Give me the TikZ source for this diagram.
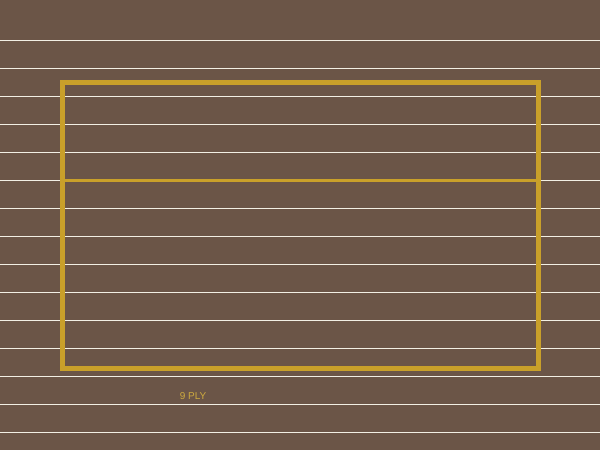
\documentclass[tikz,border=0pt]{standalone}
\usepackage{fontspec}
\setsansfont{Liberation Sans}
\usetikzlibrary{positioning}
\definecolor{bark}{HTML}{6B5547}
\definecolor{gold}{HTML}{C9A02A}
\definecolor{chalk}{HTML}{F2EFE4}

\begin{document}
\begin{tikzpicture}[x=1pt,y=-1pt]
                \tikzset{plank/.style={draw=chalk, line width=1pt},
                         frame/.style={draw=gold, line width=5pt, minimum width=476pt, minimum height=286pt, inner sep=0pt}}
                \fill[bark] (0,0) rectangle (600,450);
                \useasboundingbox (0,0) rectangle (600,450);
                \foreach \y in {40,68,...,432} \draw[plank] (0,\y) -- (600,\y);
                \node[frame] (board) at (300.5,225.4) {};
                \coordinate (mid) at (300,180.3);
                \draw[gold, line width=3pt] (board.west |- mid) -- (board.east |- mid);
                \node[text=gold!90!white, font=\sffamily\fontsize{10}{12}\selectfont] (ply) at (193,396) {9 PLY};
            \end{tikzpicture}
\end{document}
